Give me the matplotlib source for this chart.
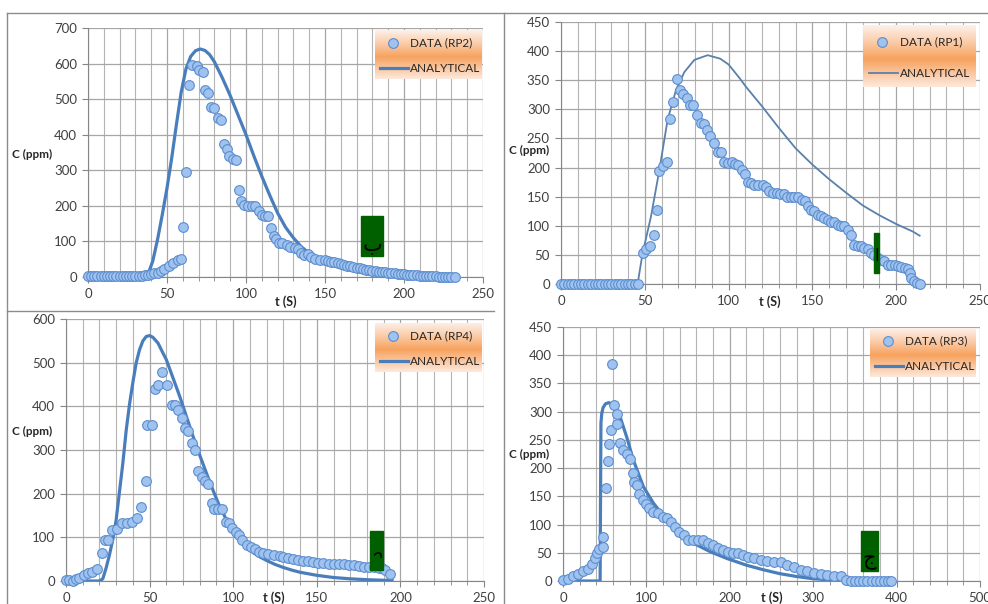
import numpy as np
import matplotlib
matplotlib.use("Agg")
import matplotlib.pyplot as plt
from matplotlib.ticker import MultipleLocator
from matplotlib.colors import LinearSegmentedColormap

W, H = 988, 604
plt.rcParams['font.family'] = ['Lato', 'DejaVu Sans']

# --- RP2 (top left) ---
rp2_t = [0, 2, 4, 6, 8, 10, 12, 14, 16, 18, 20, 22, 24, 26, 28, 30, 32, 34, 36, 38,
         40, 42, 44, 46, 48, 51, 54, 57, 59, 60, 62, 64, 66, 69, 70, 72.5, 74, 76, 77.6, 80,
         82, 84, 86, 88, 89, 92, 93.6, 95.7, 97, 99, 101, 104, 106, 108, 110, 112, 114, 116,
         118, 119, 121, 123, 126, 128, 131, 133, 135, 137, 139, 141, 143.5, 146.7, 150, 152,
         154, 156, 158, 160, 162, 164, 166, 168, 170, 172, 174, 176, 178, 180, 182, 184, 186,
         188, 190, 192, 194, 196, 198, 200, 202, 204, 206, 208, 210, 212, 214, 216, 218, 220,
         222, 224, 226, 228, 230, 232]
rp2_c = [2, 2, 2, 2, 2, 2, 2, 2, 2, 2, 2, 2, 2, 2, 3, 3, 3, 4, 5, 6,
         8, 10, 12, 16, 22, 30, 39, 49, 51, 141, 296, 540, 597, 592, 583, 575, 525, 517, 478, 475,
         447, 440, 375, 361, 339, 332, 330, 244, 215, 203, 200, 200, 199, 185, 175, 171, 171, 137,
         114, 107, 96, 96, 91, 84, 82, 79, 67, 63, 65, 55, 51, 49, 47, 45,
         43, 41, 38, 36, 34, 32, 30, 28, 26, 24, 22, 21, 19, 18, 16, 15, 14,
         13, 12, 11, 10, 9, 8, 8, 7, 6, 5, 5, 4, 3, 3, 2, 2, 2,
         1, 1, 1, 1, 1, 1]
rp2_fit_t = [0, 35, 37, 39, 41, 44, 47, 50, 53, 56, 59, 62, 65, 68, 71, 74, 77, 80, 85,
             90, 95, 100, 105, 110, 115, 120, 125, 130, 135, 140, 150, 160, 170, 180, 190,
             200, 210, 220, 230]
rp2_fit_c = [0, 0, 2, 20, 45, 105, 175, 250, 335, 430, 520, 585, 620, 636, 641, 637, 625,
             605, 560, 510, 455, 400, 340, 283, 230, 180, 140, 110, 85, 67, 44, 30, 19, 11, 7,
             4, 2, 1, 0]

# --- RP1 (top right) ---
rp1_t = [0, 2, 4, 6, 8, 10, 12, 14, 16, 18, 20, 22, 24, 26, 28, 30, 32, 34, 36, 38, 40, 42,
         44, 46, 48.7, 50.7, 53.3, 55.3, 57, 58.7, 60.7, 63.2, 65, 66.8, 69.2, 70.8, 72.6, 75.2,
         77, 79, 81, 83.5, 85.5, 87, 89, 91.5, 93.5, 95.5, 97.5, 99.4, 101.8, 103.8, 105.4,
         107.8, 109.8, 111.4, 113.4, 115.4, 117.7, 120.3, 122.3, 124.3, 126.3, 128.9, 130.9,
         132.9, 134.8, 137.2, 139.2, 141.6, 143.6, 145.6, 147.6, 149.2, 151.2, 153.1, 155.1,
         157.1, 159.1, 161.1, 163.1, 165, 167, 169, 171, 173, 175, 177, 179, 181, 183, 185,
         187, 189, 191, 193, 195, 197, 199, 201, 203, 205, 207, 208, 209, 210.5, 212.4, 214.4]
rp1_c = [0] * 24 + [
         53, 60, 65, 85, 127, 194, 203, 210, 283, 313, 352, 334, 327, 320,
         307, 307, 290, 277, 275, 265, 254, 243, 227, 226, 210, 208, 209, 206, 204,
         195, 189, 176, 173, 170, 170, 170, 166, 160, 157, 156, 155,
         155, 150, 149, 150, 149, 144, 142, 134, 127, 125, 119, 116,
         113, 110, 107, 106, 102, 99, 99, 93, 85, 67, 66, 65, 62, 60, 54,
         50, 45, 42, 39, 33, 33, 33, 31, 30, 27, 26, 19, 10, 5, 2, 0]
rp1_fit_t = [0, 45.7, 48.7, 53.7, 58.7, 63.6, 68.6, 73.6, 79.6, 87.5, 95, 100, 107, 110,
             120, 130, 140, 150, 160, 170, 180, 190, 200, 210, 214]
rp1_fit_c = [0, 0, 53, 116, 196, 282, 333, 364, 385, 393, 387, 377, 352, 340,
             305, 268, 233, 205, 180, 157, 135, 118, 103, 90, 83]

# --- RP4 (bottom left) ---
rp4_t = [0, 2, 4, 6, 8, 11, 13, 15.4, 18.3, 21.3, 23.3, 25.1, 27.3, 30.3, 33.3, 36.3, 39.3,
         42.3, 44.8, 47.6, 48.6, 51.2, 53.2, 55.2, 57.2, 60.2, 63.2, 65.2, 67.2, 69.2, 71.1,
         73.1, 75.1, 77.1, 79.1, 81.1, 83.1, 85.1, 87.1, 88.5, 91.1, 93.1, 95.4, 97.4, 99.4,
         101.4, 103.4, 105.4, 108, 110.4, 113, 115.6, 118, 121, 124.5, 127.7, 130, 133, 136,
         139, 142, 145, 148, 151, 154, 157, 160, 163, 166, 169, 172, 175, 178, 181, 184, 187,
         189, 191, 193.5]
rp4_c = [2, 2, 1, 4, 8, 14, 18, 21, 27, 65, 94, 94, 117, 118, 132, 132, 136,
         144, 169, 230, 358, 358, 440, 450, 478, 450, 404, 402, 392, 373, 350,
         343, 317, 299, 251, 239, 230, 222, 178, 165, 165, 165, 134, 132, 121,
         113, 105, 94, 83, 79, 73, 67, 65, 62, 60, 57, 55, 53, 50,
         47, 46, 45, 44, 42, 41, 40, 40, 39, 38, 37, 36, 34, 33, 32, 31, 30,
         29, 26, 16]
rp4_fit_t = [0, 20, 22, 24, 26, 28, 30, 32, 34, 36, 38, 40, 42, 44, 46, 48, 50, 52, 55, 58,
             60, 64, 68, 72, 76, 80, 84, 88, 92, 96, 100, 104, 108, 112, 116, 120, 125, 130,
             135, 140, 150, 160, 170, 180, 195]
rp4_fit_c = [0, 0, 5, 30, 60, 95, 140, 205, 270, 345, 405, 455, 500, 530, 550, 560, 562,
             558, 545, 522, 507, 465, 423, 377, 331, 288, 247, 207, 170, 140, 117, 96, 79, 65,
             55, 47, 38, 31, 25, 20, 13, 8, 5, 3, 1]

# --- RP3 (bottom right) ---
rp3_t = [0.4, 6.4, 12.4, 18.4, 24.4, 30.4, 34.4, 38.4, 41.2, 43.6, 47.6, 48.4, 51.6, 54.4,
         55.6, 57.2, 58.4, 61.6, 64.4, 65.2, 68.4, 72.4, 76.4, 80.4, 83.6, 85.2, 89.2, 91.6,
         95.6, 99.6, 103.6, 108.4, 114.4, 119.6, 124.4, 129.2, 134.4, 139.6, 145.2, 150.4,
         156.4, 162.4, 168.4, 174.4, 180.4, 186.4, 192.4, 198.4, 204.4, 210.4, 216.4, 222.4,
         229, 237, 245, 253, 261, 269, 277, 285, 293, 301, 309, 317, 325, 333, 339, 345, 350,
         355, 360, 365, 370, 375, 380, 385, 390, 393]
rp3_c = [2, 3, 8, 12, 17, 22, 31, 40, 50, 56, 60, 78, 164, 212,
         242, 267, 385, 311, 296, 278, 245, 232, 225, 217, 191, 176, 170, 155,
         143, 137, 129, 123, 120, 114, 111, 105, 96, 87, 81, 73,
         73, 73, 72, 68, 64, 58, 55, 52, 50, 49, 46, 43,
         40, 37, 35, 34, 33, 28, 24, 19, 18, 15, 12, 11, 9, 8, 2, 0, 0,
         0, 0, 0, 0, 0, 0, 0, 0, 0]
rp3_fit_t = [0, 44.5, 45, 45.5, 46.5, 48, 51, 55, 58, 62, 68.4, 76.4, 84.4, 96.4, 108.4,
             124.4, 140.4, 156.4, 176.4, 196.4, 220, 240, 260, 280, 300, 320, 345]
rp3_fit_c = [0, 0, 150, 280, 297, 307, 314, 316, 313, 305, 291, 255, 214, 167, 138,
             108, 84, 67, 52, 40, 28, 20, 13, 8, 4, 2, 0]

panels = [
    dict(box=(88, 28, 483, 277), t=rp2_t, c=rp2_c, ft=rp2_fit_t, fc=rp2_fit_c, xmax=250,
         ymax=700, ystep=100, xstep=50, xminor=10, name='DATA (RP2)', lw=2.3, lc='#4a7ebb',
         leg=(375, 30, 482, 79), clab=(12, 154), tlab=(275, 302),
         tag=(361, 216, 383, 256), tagtxt='\u0628', tagpos=(372, 244), tagrot=0, tagfs=15),
    dict(box=(561, 22, 980, 284), t=rp1_t, c=rp1_c, ft=rp1_fit_t, fc=rp1_fit_c, xmax=250,
         ymax=450, ystep=50, xstep=50, xminor=10, name='DATA (RP1)', lw=1.3, lc='#5b80ab',
         leg=(863, 25, 976, 87), clab=(509, 150), tlab=(759, 302),
         tag=(874, 233, 879, 273), tagtxt='\u0627', tagpos=(876.5, 256), tagrot=0, tagfs=12),
    dict(box=(66, 319, 484, 581), t=rp4_t, c=rp4_c, ft=rp4_fit_t, fc=rp4_fit_c, xmax=250,
         ymax=600, ystep=100, xstep=50, xminor=10, name='DATA (RP4)', lw=2.3, lc='#4a7ebb',
         leg=(375, 323, 482, 372), clab=(12, 431), tlab=(263, 598),
         tag=(370, 531, 383, 570), tagtxt='\u062f', tagpos=(376.5, 553), tagrot=90, tagfs=13),
    dict(box=(563, 327, 980, 581), t=rp3_t, c=rp3_c, ft=rp3_fit_t, fc=rp3_fit_c, xmax=500,
         ymax=450, ystep=50, xstep=100, xminor=20, name='DATA (RP3)', lw=2.3, lc='#4a7ebb',
         leg=(870, 328, 976, 377), clab=(509, 454), tlab=(761, 598),
         tag=(861, 531, 878, 571), tagtxt='\u062c', tagpos=(869.5, 560), tagrot=0, tagfs=15),
]


def box(l, t, r, b):
    return [l / W, 1 - b / H, (r - l) / W, (b - t) / H]


def fx(x):
    return x / W


def fy(y):
    return 1 - y / H


fig = plt.figure(figsize=(W / 100, H / 100), dpi=100)
fig.patch.set_facecolor('white')

# chart frames
frame = dict(color='#8c8c8c', lw=1.0)
fig.add_artist(plt.Line2D([fx(7), fx(988)], [fy(13), fy(13)], transform=fig.transFigure, **frame))
fig.add_artist(plt.Line2D([fx(7), fx(7)], [fy(13), fy(604)], transform=fig.transFigure, **frame))
fig.add_artist(plt.Line2D([fx(504), fx(504)], [fy(13), fy(604)], transform=fig.transFigure, **frame))
fig.add_artist(plt.Line2D([fx(7), fx(494)], [fy(311), fy(311)], transform=fig.transFigure, **frame))

grad_cmap = LinearSegmentedColormap.from_list(
    'leg', [(0, '#fdf0ea'), (0.25, '#fbcfae'), (0.55, '#f7a25e'), (0.8, '#fbc9a5'), (1, '#fde9dc')])
grad = np.linspace(0, 1, 100).reshape(-1, 1)

for p in panels:
    ax = fig.add_axes(box(*p['box']))
    ax.set_xlim(0, p['xmax'])
    ax.set_ylim(0, p['ymax'])
    ax.xaxis.set_major_locator(MultipleLocator(p['xstep']))
    ax.xaxis.set_minor_locator(MultipleLocator(p['xminor']))
    ax.yaxis.set_major_locator(MultipleLocator(p['ystep']))
    ax.grid(True, which='major', color='#a6a6a6', lw=0.9)
    ax.grid(True, which='minor', axis='x', color='#b4b4b4', lw=0.8)
    ax.set_axisbelow(True)
    for s in ['top', 'right']:
        ax.spines[s].set_visible(False)
    for s in ['left', 'bottom']:
        ax.spines[s].set_color('#868686')
    ax.tick_params(which='both', colors='#868686', labelcolor='#404040', labelsize=9.5)
    ax.tick_params(axis='x', which='major', length=4, pad=4)
    ax.tick_params(axis='x', which='minor', length=3)
    ax.tick_params(axis='y', length=4, pad=4)

    ax.plot(p['ft'], p['fc'], color=p['lc'], lw=p['lw'], zorder=3, solid_joinstyle='round')
    ax.plot(p['t'], p['c'], ls='none', marker='o', ms=7, mfc='#9fc3ee', mec='#5b8dcf',
            mew=0.8, zorder=4, clip_on=False)

    fig.text(fx(p['clab'][0]), fy(p['clab'][1]), 'C (ppm)', fontsize=8.5, fontweight='bold',
             color='#262626', ha='left', va='center')
    fig.text(fx(p['tlab'][0]), fy(p['tlab'][1]), 't (S)', fontsize=9, fontweight='bold',
             color='#262626', ha='left', va='center')

    # legend with gradient
    l, t, r, b = p['leg']
    lax = fig.add_axes(box(l, t, r, b))
    lax.imshow(grad, cmap=grad_cmap, aspect='auto', extent=[0, 1, 0, 1])
    lax.set_xlim(0, 1)
    lax.set_ylim(0, 1)
    lax.axis('off')
    lax.plot([0.17], [0.73], ls='none', marker='o', ms=7, mfc='#9fc3ee', mec='#5b8dcf', mew=0.8)
    lax.text(0.33, 0.73, p['name'], fontsize=8.5, color='#262626', va='center', ha='left')
    lax.plot([0.05, 0.31], [0.22, 0.22], color=p['lc'], lw=p['lw'])
    lax.text(0.33, 0.22, 'ANALYTICAL', fontsize=8.5, color='#262626', va='center', ha='left')

    # green marker labels
    gl, gt, gr, gb = p['tag']
    fig.add_artist(plt.Rectangle((fx(gl), fy(gb)), (gr - gl) / W, (gb - gt) / H,
                                 transform=fig.transFigure, color='#006000', zorder=10))
    fig.text(fx(p['tagpos'][0]), fy(p['tagpos'][1]), p['tagtxt'], fontsize=p['tagfs'],
             family='DejaVu Sans', color='black', ha='center', va='center',
             rotation=p['tagrot'], zorder=11)

fig.savefig('out.png', dpi=100)
